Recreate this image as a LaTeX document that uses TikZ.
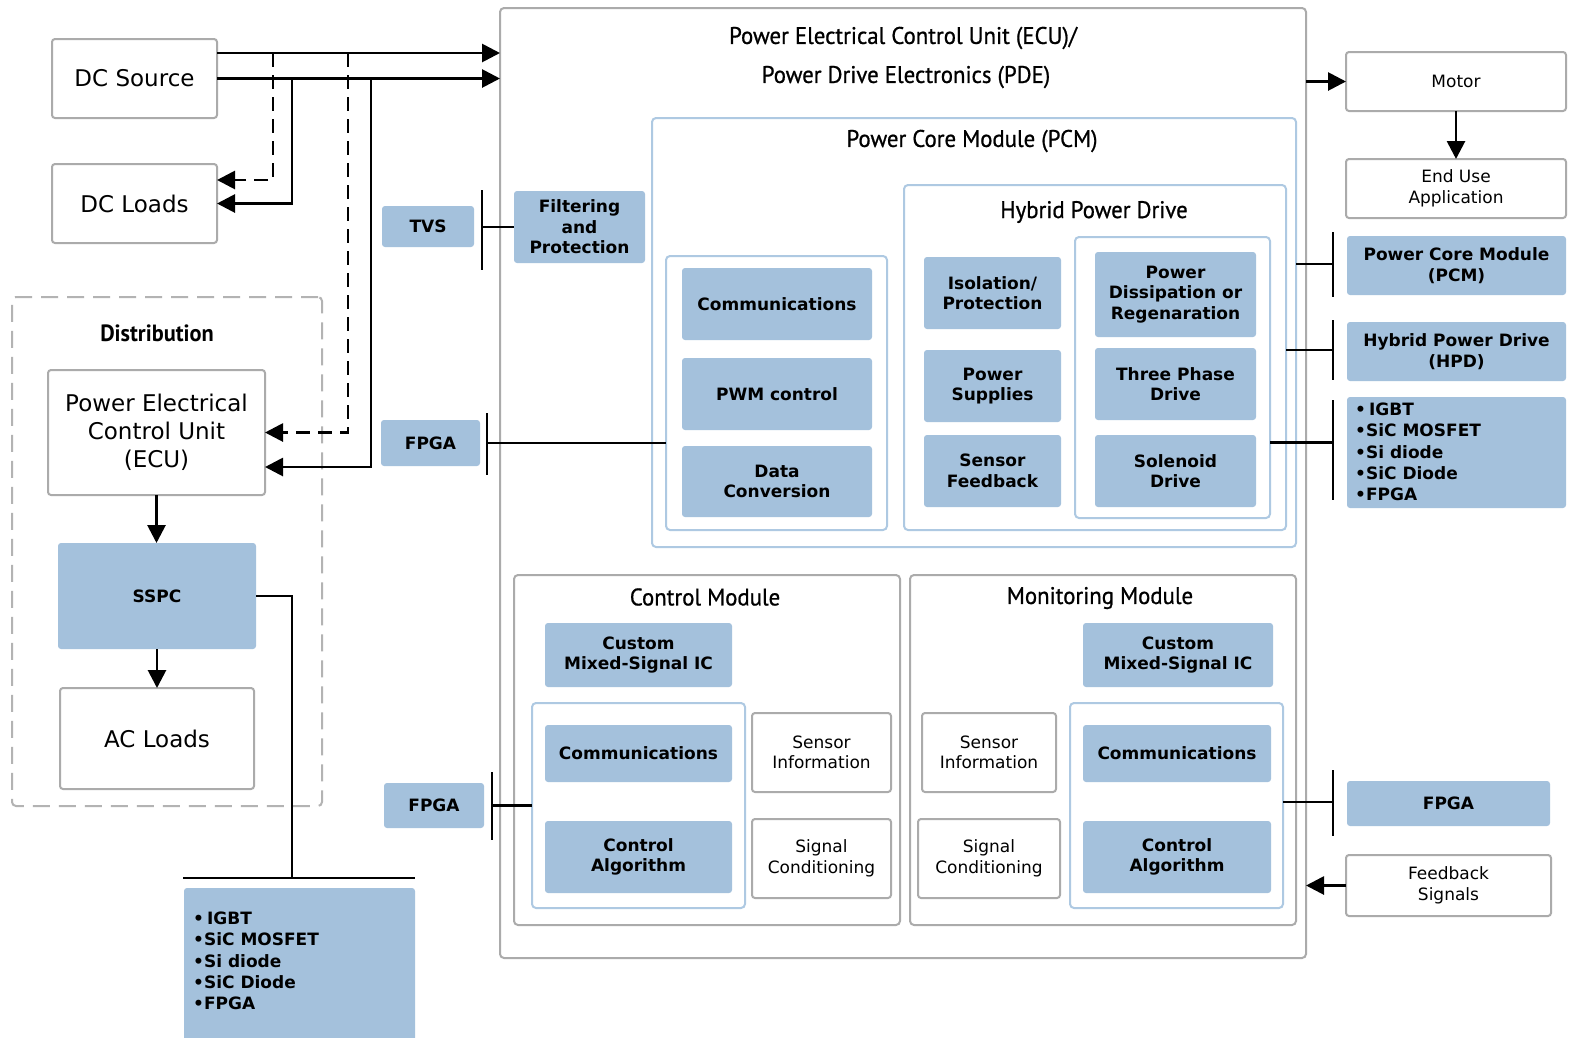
\documentclass[tikz,border=0pt]{standalone}
\usepackage{fontspec}
\setmainfont{DejaVu Sans}
\newfontfamily\ttlfont[FakeStretch=0.95, FakeBold=0.8]{PT Sans}
\newfontfamily\ttlbfont[FakeStretch=0.95]{PT Sans Bold}
\usetikzlibrary{arrows.meta}
\definecolor{bfill}{HTML}{A4C1DC}
\definecolor{lblue}{HTML}{AEC9E2}
\definecolor{gborder}{HTML}{ABABAB}
\newcommand{\placebox}[7]{\node[#6, minimum width={(#4)-(#2)}, minimum height={(#5)-(#3)}] (#1) at ({((#2)+(#4))/2},{((#3)+(#5))/2}) {#7};}
\tikzset{
 base/.style={inner sep=0pt, outer sep=0pt, align=center, rounded corners=3pt},
 wbox/.style={base, draw=gborder, line width=2pt, fill=white, font=\fontsize{17}{20.5}\selectfont},
 wbig/.style={wbox, font=\fontsize{23}{28}\selectfont},
 bbox/.style={base, fill=bfill, font=\fontsize{17}{20.5}\selectfont\bfseries},
 lcont/.style={base, draw=lblue, line width=2pt, rounded corners=4pt},
 gcont/.style={base, draw=gborder, line width=2pt, rounded corners=4pt},
 ttl/.style={inner sep=0pt, font=\ttlfont\fontsize{24}{28}\selectfont},
 listtxt/.style={anchor=west, align=left, inner sep=0pt, font=\fontsize{17}{21.3}\selectfont\bfseries},
 conn/.style={line width=2.8pt, draw=black},
 arr/.style={-{Triangle[length=18pt,width=18pt]}},
 dsh/.style={dash pattern=on 14pt off 8pt},
}
\begin{document}
\begin{tikzpicture}[x=1pt,y=-1pt]
\fill[white] (0,0) rectangle (1569,1037);
\useasboundingbox (0,0) rectangle (1569,1037);

% ---------- left side ----------
\placebox{dcs}{52}{39}{217}{118}{wbig}{DC Source}
\placebox{dcl}{52}{164}{217}{243}{wbig}{DC Loads}
\placebox{dist}{12}{297}{322}{806}{gcont, dash pattern=on 17pt off 9pt, draw=gborder!90}{}
\node[ttl, font=\ttlbfont\fontsize{23.5}{27}\selectfont] (distt) at (157,333) {Distribution};
\placebox{pecu}{48}{370}{265}{495}{wbig}{Power Electrical\\Control Unit\\(ECU)}
\placebox{sspc}{58}{543}{256}{649}{bbox}{SSPC}
\placebox{acl}{60}{688}{254}{789}{wbig}{AC Loads}
\placebox{lst1}{184}{888}{415}{1045}{bbox}{}
\node[listtxt] (lst1t) at (193,961) {•\hspace{3pt}IGBT\\•SiC MOSFET\\•Si diode\\•SiC Diode\\•FPGA};

% ---------- main ECU/PDE box ----------
\placebox{pde}{500}{8}{1306}{958}{gcont}{}
\node[ttl] (pdet1) at (903,38) {Power Electrical Control Unit (ECU)/};
\node[ttl] (pdet2) at (906,77) {Power Drive Electronics (PDE)};

\placebox{tvs}{382}{206}{474}{247}{bbox}{TVS}
\placebox{filt}{514}{191}{645}{263}{bbox}{Filtering\\and\\Protection}
\placebox{fpgaA}{381}{420}{480}{466}{bbox}{FPGA}
\placebox{fpgaB}{384}{783}{484}{828}{bbox}{FPGA}

% PCM
\placebox{pcm}{652}{118}{1296}{547}{lcont}{}
\node[ttl] (pcmt) at (972,141) {Power Core Module (PCM)};
\placebox{pcml}{666}{256}{887}{530}{lcont}{}
\placebox{comA}{682}{268}{872}{340}{bbox}{Communications}
\placebox{pwm}{682}{358}{872}{430}{bbox}{PWM control}
\placebox{dconv}{682}{446}{872}{517}{bbox}{Data\\Conversion}
\placebox{hpd}{904}{185}{1286}{530}{lcont}{}
\node[ttl] (hpdt) at (1094,212) {Hybrid Power Drive};
\placebox{iso}{924}{257}{1061}{329}{bbox}{Isolation/\\Protection}
\placebox{psup}{924}{350}{1061}{422}{bbox}{Power\\Supplies}
\placebox{sfb}{924}{435}{1061}{507}{bbox}{Sensor\\Feedback}
\placebox{hin}{1075}{237}{1270}{518}{lcont}{}
\placebox{pdiss}{1095}{252}{1256}{337}{bbox}{Power\\Dissipation or\\Regenaration}
\placebox{tpd}{1095}{348}{1256}{420}{bbox}{Three Phase\\Drive}
\placebox{sol}{1095}{435}{1256}{507}{bbox}{Solenoid\\Drive}

% Control module
\placebox{cm}{514}{575}{900}{925}{gcont}{}
\node[ttl] (cmt) at (705,597) {Control Module};
\placebox{cmic}{545}{623}{732}{687}{bbox}{Custom\\Mixed-Signal IC}
\placebox{cin}{532}{703}{745}{908}{lcont}{}
\placebox{ccom}{545}{725}{732}{782}{bbox}{Communications}
\placebox{calg}{545}{821}{732}{893}{bbox}{Control\\Algorithm}
\placebox{csen}{752}{713}{891}{792}{wbox}{Sensor\\Information}
\placebox{csig}{752}{819}{891}{898}{wbox}{Signal\\Conditioning}

% Monitoring module
\placebox{mm}{910}{575}{1296}{925}{gcont}{}
\node[ttl] (mmt) at (1100,598) {Monitoring Module};
\placebox{mmic}{1083}{623}{1273}{687}{bbox}{Custom\\Mixed-Signal IC}
\placebox{msen}{922}{713}{1056}{792}{wbox}{Sensor\\Information}
\placebox{msig}{918}{819}{1060}{898}{wbox}{Signal\\Conditioning}
\placebox{mnin}{1070}{703}{1283}{908}{lcont}{}
\placebox{mcom}{1083}{725}{1271}{782}{bbox}{Communications}
\placebox{malg}{1083}{821}{1271}{893}{bbox}{Control\\Algorithm}

% ---------- right side ----------
\placebox{motor}{1346}{52}{1566}{111}{wbox}{Motor}
\placebox{enduse}{1346}{159}{1566}{218}{wbox}{End Use\\Application}
\placebox{rpcm}{1347}{236}{1566}{295}{bbox}{Power Core Module\\(PCM)}
\placebox{rhpd}{1347}{322}{1566}{381}{bbox}{Hybrid Power Drive\\(HPD)}
\placebox{rlst}{1347}{397}{1566}{508}{bbox}{}
\node[listtxt] (rlstt) at (1355,452) {•\hspace{3pt}IGBT\\•SiC MOSFET\\•Si diode\\•SiC Diode\\•FPGA};
\placebox{fpgaC}{1347}{781}{1550}{826}{bbox}{FPGA}
\placebox{fb}{1346}{855}{1551}{916}{wbox}{Feedback\\Signals}

% ---------- connectors ----------
\coordinate (jx1) at (273,0);
\coordinate (jx2) at (292,0);
\coordinate (jx3) at (348,0);
\coordinate (jx4) at (371,0);
\coordinate (b1) at ([yshift=25.5pt]dcs.east);
\draw[conn,arr] (b1) -- (b1 -| pde.west);
\draw[conn,arr] (dcs.east) -- (dcs.east -| pde.west);
\draw[conn,dsh,arr] (b1 -| jx1) |- ([yshift=23.5pt]dcl.east);
\draw[conn,arr] (dcs.east -| jx2) |- (dcl.east);
\draw[conn,dsh,arr] (b1 -| jx3) |- (pecu.east);
\draw[conn,arr] (dcs.east -| jx4) |- ([yshift=-34.5pt]pecu.east);

\draw[conn,arr] (pecu.south) -- (pecu.south |- sspc.north);
\draw[conn,arr] (sspc.south) -- (sspc.south |- acl.north);
\coordinate (lbar) at ([yshift=10pt]lst1.north);
\draw[conn] (sspc.east) -| (lbar -| jx2);
\draw[conn] ([xshift=-1pt]lbar -| lst1.west) -- (lbar -| lst1.east);

\coordinate (tb) at ([xshift=8pt]tvs.east);
\draw[conn] ([yshift=36.5pt]tb) -- ([yshift=-43.5pt]tb);
\draw[conn] (filt.west -| tb) -- (filt.west);

\coordinate (fa) at ([xshift=7pt]fpgaA.east);
\draw[conn] ([yshift=30pt]fa) -- ([yshift=-32pt]fa);
\draw[conn] (fa) -- (fa -| pcml.west);

\coordinate (fbb) at ([xshift=8pt]fpgaB.east);
\draw[conn] ([yshift=33.5pt]fbb) -- ([yshift=-34.5pt]fbb);
\draw[conn] (fbb) -- (fbb -| cin.west);

\coordinate (rb1) at ([xshift=-14pt]rpcm.west);
\draw[conn] ([yshift=33.5pt]rb1) -- ([yshift=-31.5pt]rb1);
\draw[conn] ([yshift=1.5pt]rb1 -| pcm.east) -- ([yshift=1.5pt]rb1);

\coordinate (rb2) at ([xshift=-14pt]rhpd.west);
\draw[conn] ([yshift=31.5pt]rb2) -- ([yshift=-28.5pt]rb2);
\draw[conn] ([yshift=1.5pt]rb2 -| hpd.east) -- ([yshift=1.5pt]rb2);

\coordinate (rb3) at ([xshift=-14pt,yshift=10pt]rlst.west);
\draw[conn] ([yshift=42.5pt]rb3) -- ([yshift=-57.5pt]rb3);
\draw[conn] (rb3 -| hin.east) -- (rb3);

\coordinate (rb4) at ([xshift=-14pt]fpgaC.west);
\draw[conn] ([yshift=33.5pt]rb4) -- ([yshift=-32.5pt]rb4);
\draw[conn] ([yshift=1.5pt]rb4 -| mnin.east) -- ([yshift=1.5pt]rb4);

\draw[conn,arr] (motor.west -| pde.east) -- (motor.west);
\draw[conn,arr] (motor.south) -- (enduse.north);
\draw[conn,arr] (fb.west) -- (fb.west -| pde.east);
\end{tikzpicture}
\end{document}
